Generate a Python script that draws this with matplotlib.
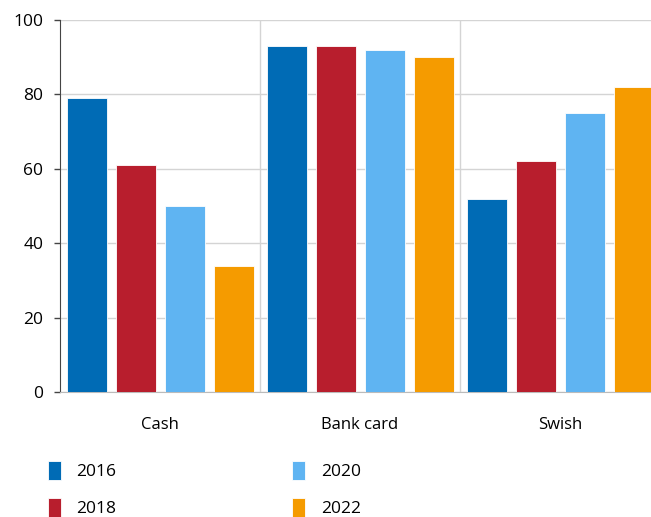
import numpy as np
import matplotlib.pyplot as plt

# data
categories = ["Cash", "Bank card", "Swish"]
years = ["2016", "2018", "2020", "2022"]
v2016 = [79, 93, 52]
v2018 = [61, 93, 62]
v2020 = [50, 92, 75]
v2022 = [34, 90, 82]
colors = ["#006bb5", "#b81e2d", "#5fb4f2", "#f59b00"]

plt.rcParams['font.family'] = ['Open Sans', 'DejaVu Sans']

fig = plt.figure(figsize=(6.51, 5.17), dpi=100)
# axes spans past the right edge like the cropped original
ax = fig.add_axes([60 / 651, 1 - 392 / 517, 600 / 651, 372 / 517])

x = np.arange(len(categories))
offsets = [-0.3675, -0.1225, 0.1225, 0.3675]
series = [v2016, v2018, v2020, v2022]
for vals, off, c, lab in zip(series, offsets, colors, years):
    ax.bar(x + off, vals, width=0.2, color=c, edgecolor="white",
           linewidth=0.6, label=lab, zorder=3)

ax.set_xlim(-0.5, 2.5)
ax.set_ylim(0, 100)
ax.set_yticks(range(0, 101, 20))
ax.set_xticks(x)
ax.set_xticklabels(categories, fontsize=12)
ax.tick_params(axis='x', length=0, pad=18)
ax.tick_params(axis='y', length=4, width=1, direction='out', labelsize=12.5,
               pad=8, color="#444444")

ax.grid(axis='y', color="#d4d4d4", linewidth=1, zorder=0)
for sep in [0.5, 1.5]:
    ax.axvline(sep, color="#d4d4d4", linewidth=1, zorder=0)

for s in ["top", "right"]:
    ax.spines[s].set_visible(False)
ax.spines["left"].set_color("#444444")
ax.spines["bottom"].set_color("#bbbbbb")

fig.legend(loc="upper left", bbox_to_anchor=(32 / 651, 1 - 445 / 517),
           ncol=2, frameon=False, fontsize=12.5, handlelength=0.75,
           handleheight=1.3, handletextpad=0.92, columnspacing=10.1,
           labelspacing=1.05)

fig.savefig("out.png", dpi=100)
